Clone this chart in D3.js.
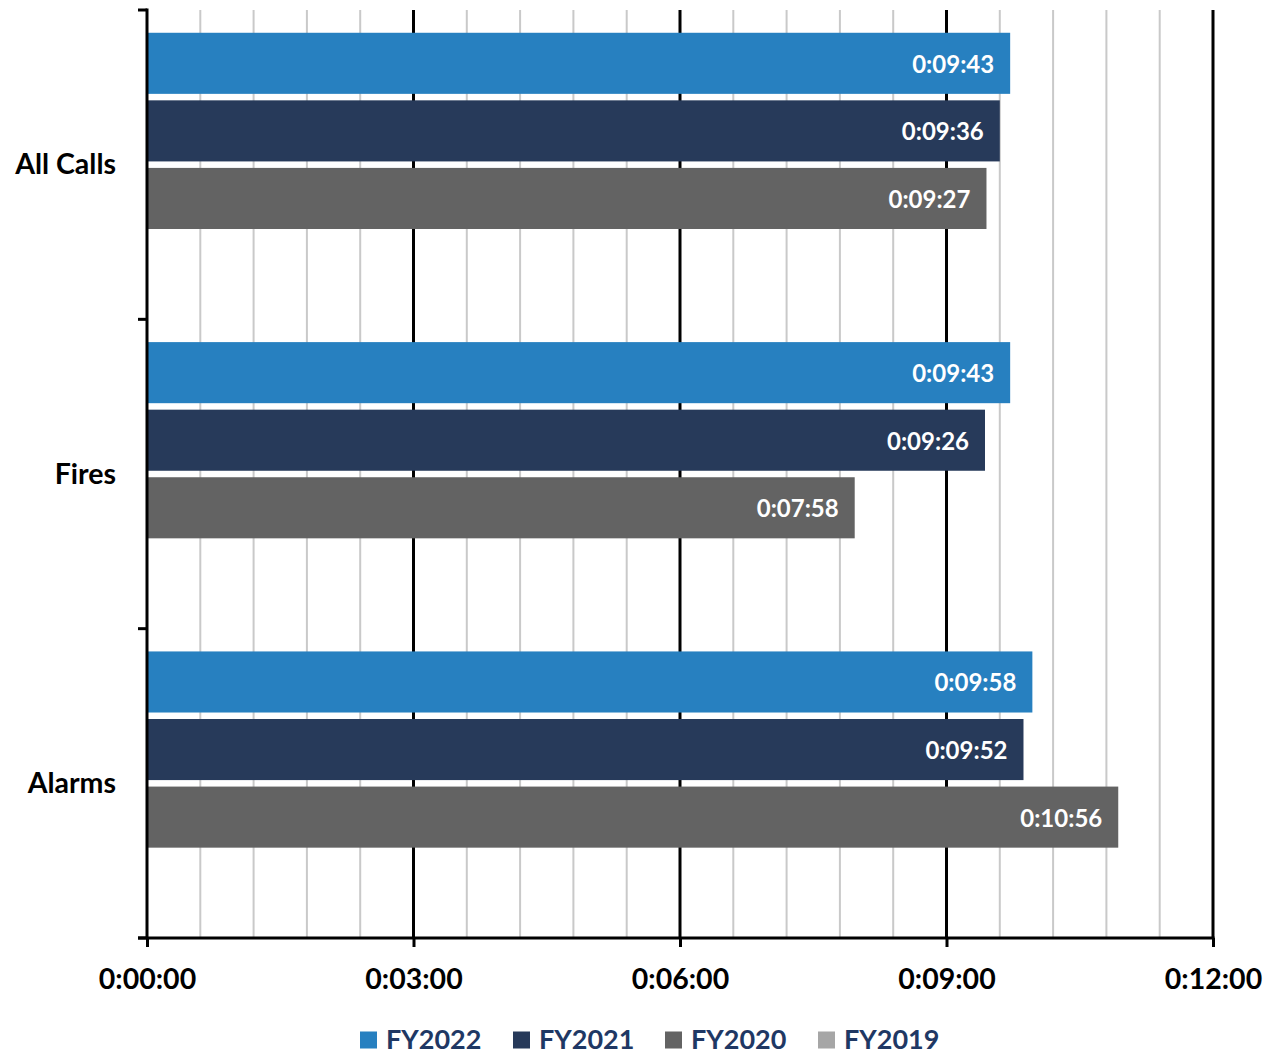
<!DOCTYPE html>
<html>
<head>
<meta charset="utf-8">
<script src="https://cdn.jsdelivr.net/npm/d3@7"></script>
<style>
  html, body { margin: 0; padding: 0; background: #ffffff; }
  svg { display: block; }
  text { font-family: Lato, "Open Sans", sans-serif; font-weight: bold; }
</style>
</head>
<body>
<svg id="chart" width="1275" height="1055"></svg>
<script>
// Response times, in seconds
const categories = ["All Calls", "Fires", "Alarms"];
const seriesNames = ["FY2022", "FY2021", "FY2020", "FY2019"];
const fy2022 = [583, 583, 598];   // 0:09:43, 0:09:43, 0:09:58
const fy2021 = [576, 566, 592];   // 0:09:36, 0:09:26, 0:09:52
const fy2020 = [567, 478, 656];   // 0:09:27, 0:07:58, 0:10:56
const fy2019 = [null, null, null];
const seriesColors = ["#2780c0", "#273a5a", "#636363", "#a6a6a6"];
const majorTicks = [0, 180, 360, 540, 720];

const seriesValues = [fy2022, fy2021, fy2020, fy2019];

const fmt = s => {
  const h = Math.floor(s / 3600), m = Math.floor((s % 3600) / 60), sec = s % 60;
  return `${h}:${String(m).padStart(2, "0")}:${String(sec).padStart(2, "0")}`;
};

const svg = d3.select("#chart");
const margin = { left: 147, right: 62, top: 10, bottom: 117 };
const W = 1275, H = 1055;
const plotBottom = H - margin.bottom; // 938

const x = d3.scaleLinear().domain([0, 720]).range([margin.left, W - margin.right]);
const y0 = d3.scaleBand().domain(categories).range([margin.top, plotBottom]);
const y1 = d3.scaleBand().domain(seriesNames).range([0, y0.bandwidth()])
  .paddingInner(0.096).paddingOuter(0.337);

// minor gridlines every 36 s
const minor = d3.range(36, 721, 36).filter(v => v % 180 !== 0);
svg.append("g").selectAll("line").data(minor).join("line")
  .attr("x1", d => x(d)).attr("x2", d => x(d))
  .attr("y1", margin.top).attr("y2", plotBottom)
  .attr("stroke", "#c9c9c9").attr("stroke-width", 2);

// major gridlines
svg.append("g").selectAll("line").data(majorTicks.slice(1)).join("line")
  .attr("x1", d => x(d)).attr("x2", d => x(d))
  .attr("y1", margin.top).attr("y2", plotBottom)
  .attr("stroke", "#000").attr("stroke-width", 3);

// bars
const rows = [];
categories.forEach((c, i) => {
  seriesNames.forEach((s, j) => {
    rows.push({ cat: c, series: s, value: seriesValues[j][i], color: seriesColors[j] });
  });
});
const barData = rows.filter(d => d.value != null);

const gBars = svg.append("g");
gBars.selectAll("rect").data(barData).join("rect")
  .attr("x", x(0))
  .attr("y", d => y0(d.cat) + y1(d.series))
  .attr("width", d => x(d.value) - x(0))
  .attr("height", y1.bandwidth())
  .attr("fill", d => d.color);

gBars.selectAll("text").data(barData).join("text")
  .attr("x", d => x(d.value) - 16)
  .attr("y", d => y0(d.cat) + y1(d.series) + y1.bandwidth() / 2 + 1)
  .attr("dy", "0.35em")
  .attr("text-anchor", "end")
  .attr("fill", "#ffffff")
  .attr("font-size", 24)
  .text(d => fmt(d.value));

// left axis
const yAxis = d3.axisLeft(y0).tickSize(0).tickPadding(31);
const gy = svg.append("g").attr("transform", `translate(${x(0)},0)`).call(yAxis);
gy.select(".domain").remove();
gy.selectAll("text").attr("font-size", 28.5).attr("fill", "#000").attr("dy", "0.34em")
  .style("font-family", "Lato, 'Open Sans', sans-serif").style("font-weight", "bold");
svg.append("line")
  .attr("x1", x(0)).attr("x2", x(0)).attr("y1", margin.top - 1.5).attr("y2", plotBottom)
  .attr("stroke", "#000").attr("stroke-width", 3);
const bandEdges = categories.map(c => y0(c)).concat([plotBottom]);
svg.append("g").selectAll("line").data(bandEdges).join("line")
  .attr("x1", x(0) - 9).attr("x2", x(0))
  .attr("y1", d => d).attr("y2", d => d)
  .attr("stroke", "#000").attr("stroke-width", 3);

// bottom axis
const xAxis = d3.axisBottom(x).tickValues(majorTicks).tickFormat(fmt).tickSize(9).tickPadding(22);
const gx = svg.append("g").attr("transform", `translate(0,${plotBottom})`).call(xAxis);
gx.select(".domain").remove();
gx.selectAll(".tick line").attr("stroke", "#000").attr("stroke-width", 3);
gx.selectAll("text").attr("font-size", 28.5).attr("fill", "#000")
  .style("font-family", "Lato, 'Open Sans', sans-serif").style("font-weight", "bold");
svg.append("line")
  .attr("x1", x(0) - 9).attr("x2", x(720) + 1.5).attr("y1", plotBottom).attr("y2", plotBottom)
  .attr("stroke", "#000").attr("stroke-width", 3);

// legend
const legendX = [360, 513, 665, 818];
const lg = svg.append("g").attr("transform", "translate(0,1039)");
const items = lg.selectAll("g").data(seriesNames).join("g")
  .attr("transform", (d, i) => `translate(${legendX[i]},0)`);
items.append("rect").attr("x", 0).attr("y", -7.5).attr("width", 17).attr("height", 17)
  .attr("fill", (d, i) => seriesColors[i]);
items.append("text").attr("x", 26).attr("dy", "0.36em")
  .attr("font-size", 27).attr("fill", "#1f3864").text(d => d);
</script>
</body>
</html>
